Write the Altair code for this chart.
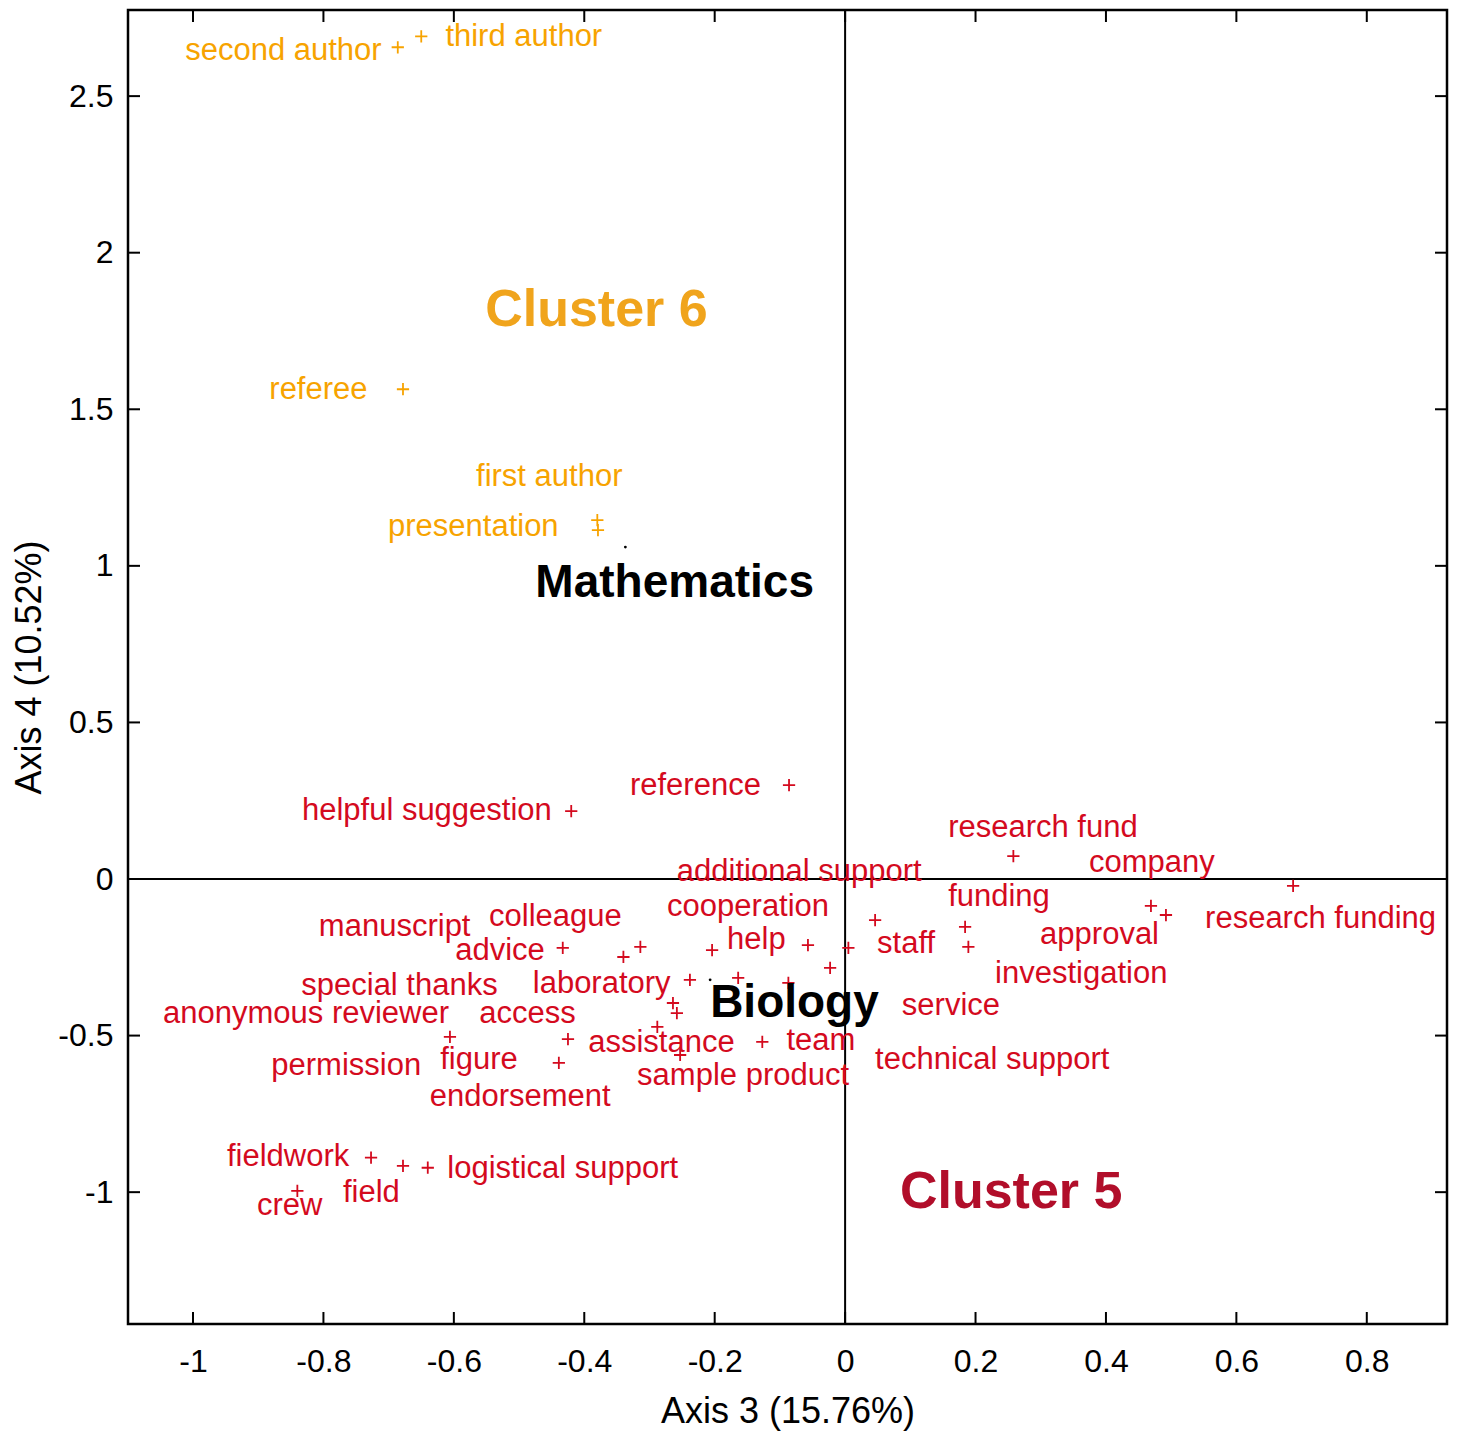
import altair as alt
import pandas as pd

# ---- data ----
words = ["second author", "third author", "referee", "first author", "presentation",
         "helpful suggestion", "reference", "research fund", "company", "approval",
         "research funding", "advice", "manuscript", "colleague", "cooperation", "help",
         "staff", "additional support", "funding", "investigation", "service",
         "laboratory", "permission", "technical support", "special thanks", "access",
         "assistance", "figure", "sample product", "team", "endorsement",
         "anonymous reviewer", "fieldwork", "field", "logistical support", "crew"]
cluster = ["Cluster 6"] * 5 + ["Cluster 5"] * 31
# marker coordinates (Axis 3, Axis 4)
axis3 = [-0.686, -0.650, -0.678, -0.380, -0.379,
         -0.420, -0.086, 0.258, 0.469, 0.492,
         0.687, -0.433, -0.340, -0.314, -0.204, -0.057,
         0.005, 0.046, 0.184, 0.189, -0.023,
         -0.238, -0.164, -0.087, -0.264, -0.258,
         -0.288, -0.425, -0.253, -0.127, -0.439,
         -0.606, -0.727, -0.678, -0.640, -0.840]
axis4 = [2.656, 2.691, 1.564, 1.146, 1.114,
         0.217, 0.300, 0.073, -0.086, -0.115,
         -0.022, -0.220, -0.249, -0.217, -0.227, -0.211,
         -0.220, -0.131, -0.153, -0.217, -0.284,
         -0.322, -0.316, -0.332, -0.396, -0.428,
         -0.472, -0.511, -0.562, -0.520, -0.587,
         -0.504, -0.890, -0.916, -0.922, -0.996]
# label anchor (left edge, vertical middle) in axis units
label3 = [-1.012, -0.613, -0.883, -0.566, -0.701,
          -0.833, -0.330, 0.158, 0.374, 0.299,
          0.552, -0.598, -0.807, -0.546, -0.273, -0.181,
          0.049, -0.258, 0.158, 0.230, 0.087,
          -0.479, -0.880, 0.046, -0.834, -0.561,
          -0.394, -0.621, -0.319, -0.090, -0.637,
          -1.046, -0.948, -0.770, -0.610, -0.902]
label4 = [2.643, 2.688, 1.561, 1.283, 1.124,
          0.217, 0.297, 0.163, 0.051, -0.179,
          -0.128, -0.230, -0.153, -0.121, -0.089, -0.195,
          -0.207, 0.022, -0.057, -0.303, -0.405,
          -0.335, -0.597, -0.578, -0.342, -0.431,
          -0.523, -0.578, -0.629, -0.517, -0.696,
          -0.431, -0.887, -1.002, -0.926, -1.044]

groups = ["Mathematics", "Biology"]
group3 = [-0.337, -0.207]
group4 = [1.060, -0.322]
group_label3 = [-0.475, -0.207]
group_label4 = [0.945, -0.396]

cluster_names = ["Cluster 6", "Cluster 5"]
cluster_label3 = [-0.552, 0.084]
cluster_label4 = [1.816, -0.999]

x_ticks = [-1, -0.8, -0.6, -0.4, -0.2, 0, 0.2, 0.4, 0.6, 0.8]
y_ticks = [-1, -0.5, 0, 0.5, 1, 1.5, 2, 2.5]
x_domain = [-1.0997, 0.923]
y_domain = [-1.421, 2.775]

# ---- styling ----
W, H = 1319, 1314
ORANGE = "#F7A300"
RED = "#D40A1E"
SANS = "Liberation Sans, Arial, Helvetica, sans-serif"

pts = pd.DataFrame({"word": words, "cluster": cluster, "a3": axis3, "a4": axis4,
                    "l3": label3, "l4": label4})
grp = pd.DataFrame({"g": groups, "a3": group3, "a4": group4, "l3": group_label3, "l4": group_label4})
cl = pd.DataFrame({"c": cluster_names, "l3": cluster_label3, "l4": cluster_label4})
xt = pd.DataFrame({"v": x_ticks})
yt = pd.DataFrame({"v": y_ticks})

xs = alt.Scale(domain=x_domain, nice=False, zero=False)
ys = alt.Scale(domain=y_domain, nice=False, zero=False)
color = alt.Color("cluster:N", scale=alt.Scale(domain=["Cluster 6", "Cluster 5"], range=[ORANGE, RED]), legend=None)

XT = "Axis 3 (15.76%)"
YT = "Axis 4 (10.52%)"
x_axis = alt.Axis(values=x_ticks, labelExpr="toString(datum.value)", ticks=False, domain=False, grid=False,
                  labelFont=SANS, labelFontSize=32, labelColor="black", labelPadding=22,
                  titleFont=SANS, titleFontSize=36, titleFontWeight="normal",
                  titleColor="black", titlePadding=17)
y_axis = alt.Axis(values=y_ticks, labelExpr="toString(datum.value)", ticks=False, domain=False, grid=False,
                  labelFont=SANS, labelFontSize=32, labelColor="black", labelPadding=15,
                  titleFont=SANS, titleFontSize=36, titleFontWeight="normal",
                  titleColor="black", titlePadding=9)


def X(field):
    return alt.X(field, scale=xs, axis=x_axis, title=XT)


def Y(field):
    return alt.Y(field, scale=ys, axis=y_axis, title=YT)


zero_v = alt.Chart(pd.DataFrame({"v": [0]})).mark_rule(color="black", strokeWidth=2).encode(x=X("v:Q"))
zero_h = alt.Chart(pd.DataFrame({"v": [0]})).mark_rule(color="black", strokeWidth=2).encode(y=Y("v:Q"))

tick_b = alt.Chart(xt).mark_rule(color="black", strokeWidth=2).encode(
    x=X("v:Q"), y=alt.value(H), y2=alt.value(H - 12))
tick_t = alt.Chart(xt).mark_rule(color="black", strokeWidth=2).encode(
    x=X("v:Q"), y=alt.value(0), y2=alt.value(12))
tick_l = alt.Chart(yt).mark_rule(color="black", strokeWidth=2).encode(
    y=Y("v:Q"), x=alt.value(0), x2=alt.value(12))
tick_r = alt.Chart(yt).mark_rule(color="black", strokeWidth=2).encode(
    y=Y("v:Q"), x=alt.value(W), x2=alt.value(W - 12))

markers = alt.Chart(pts).mark_point(shape="M-1,0L1,0M0,-1L0,1", filled=False, size=150,
                                    strokeWidth=1.8, opacity=1).encode(
    x=X("a3:Q"), y=Y("a4:Q"), color=color)

labels = alt.Chart(pts).mark_text(align="left", baseline="middle", font=SANS, fontSize=31).encode(
    x=X("l3:Q"), y=Y("l4:Q"), text="word:N", color=color)

dots = alt.Chart(grp).mark_point(shape="circle", filled=True, size=8, color="black", opacity=1).encode(
    x=X("a3:Q"), y=Y("a4:Q"))
group_text = alt.Chart(grp).mark_text(align="left", baseline="middle", font=SANS, fontSize=46,
                                      fontWeight="bold", color="black").encode(
    x=X("l3:Q"), y=Y("l4:Q"), text="g:N")
cluster_text = alt.Chart(cl).mark_text(align="left", baseline="middle", font=SANS, fontSize=52,
                                       fontWeight="bold").encode(
    x=X("l3:Q"), y=Y("l4:Q"), text="c:N",
    color=alt.Color("c:N", scale=alt.Scale(domain=["Cluster 6", "Cluster 5"], range=["#F0A41C", "#B10E2A"]),
                    legend=None))

chart = alt.layer(zero_v, zero_h, tick_b, tick_t, tick_l, tick_r, markers, labels, dots,
                  group_text, cluster_text).resolve_scale(color="independent").properties(
    width=W, height=H, autosize="none", background="white",
    padding={"left": 120, "top": 2, "right": 4, "bottom": 110},
).configure_view(stroke="black", strokeWidth=2.5)

chart.save("out.html", embed_options={"renderer": "svg", "actions": False})
